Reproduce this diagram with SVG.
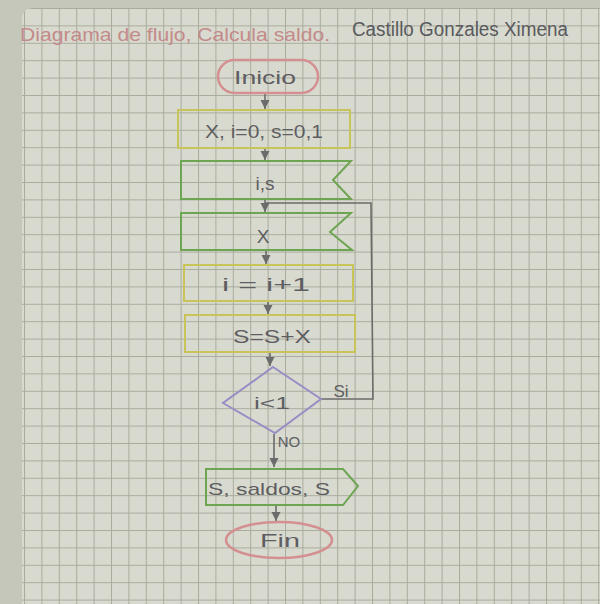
<svg xmlns="http://www.w3.org/2000/svg" width="600" height="604" viewBox="0 0 600 604">
<defs>
<pattern id="grid" x="24" y="8" width="17.4" height="17.4" patternUnits="userSpaceOnUse">
<rect width="17.4" height="17.4" fill="#d8dacf"/>
<path d="M0 0.5 H17.4 M0.5 0 V17.4" stroke="#a9ab9f" stroke-width="1" fill="none"/>
</pattern>
<marker id="ah" viewBox="0 0 10 10" refX="9" refY="5" markerWidth="7" markerHeight="7" orient="auto">
<path d="M1 1 L9 5 L1 9 Z" fill="#6b6b6b"/>
</marker>
<style>
.t{font-family:"Liberation Sans","DejaVu Sans",sans-serif;fill:#5e5e62;text-anchor:middle}
.term{fill:none;stroke:#d49090;stroke-width:2.5}
.proc{fill:none;stroke:#c8c45a;stroke-width:2}
.io{fill:none;stroke:#6ea552;stroke-width:2}
.dec{fill:none;stroke:#9a8cc4;stroke-width:2}
.ln{fill:none;stroke:#6b6b6b;stroke-width:1.6}
</style>
</defs>
<rect width="600" height="604" fill="#c6c7bb"/>
<path d="M22 604 V20 Q22 8 34 8 H600 V604 Z" fill="url(#grid)"/>
<text x="20" y="41" font-family="Liberation Sans, sans-serif" font-size="19" fill="#c48a8a" textLength="310" lengthAdjust="spacingAndGlyphs">Diagrama de flujo, Calcula saldo.</text>
<text x="352" y="36" font-family="Liberation Sans, sans-serif" font-size="20" fill="#5a5a5e" textLength="216" lengthAdjust="spacingAndGlyphs">Castillo Gonzales Ximena</text>

<g id="connectors">
<line class="ln" x1="265" y1="93" x2="265" y2="109" marker-end="url(#ah)"/>
<line class="ln" x1="265" y1="148" x2="265" y2="160" marker-end="url(#ah)"/>
<line class="ln" x1="265" y1="200" x2="265" y2="212" marker-end="url(#ah)"/>
<line class="ln" x1="266" y1="251" x2="266" y2="264" marker-end="url(#ah)"/>
<line class="ln" x1="268" y1="301" x2="268" y2="314" marker-end="url(#ah)"/>
<line class="ln" x1="270" y1="353" x2="270" y2="366" marker-end="url(#ah)"/>
<line class="ln" x1="274" y1="434" x2="274" y2="467" marker-end="url(#ah)"/>
<line class="ln" x1="276" y1="506" x2="276" y2="521" marker-end="url(#ah)"/>
<polyline class="ln" points="321,399 373,399 371,203 265,203"/>
<text class="t" x="341" y="397" font-size="17">Si</text>
<text class="t" x="289" y="447" font-size="15">NO</text>
</g>

<g id="inicio">
<rect class="term" x="218" y="60" width="100" height="33" rx="16.5"/>
<text class="t" x="265" y="84" font-size="19" textLength="62" lengthAdjust="spacingAndGlyphs">Inicio</text>
</g>
<g id="init">
<rect class="proc" x="178" y="110" width="172" height="38"/>
<text class="t" x="264" y="138" font-size="18" textLength="118" lengthAdjust="spacingAndGlyphs">X, i=0, s=0,1</text>
</g>
<g id="read1">
<polygon class="io" points="181,161 351,161 333,180 351,199 181,199"/>
<text class="t" x="265" y="190" font-size="19">i,s</text>
</g>
<g id="read2">
<polygon class="io" points="181,213 351,213 330,232 352,250 181,250"/>
<text class="t" x="263" y="243" font-size="19">X</text>
</g>
<g id="inc">
<rect class="proc" x="184" y="265" width="169" height="36"/>
<text class="t" x="266" y="291" font-size="18" textLength="88" lengthAdjust="spacingAndGlyphs">i = i+1</text>
</g>
<g id="sum">
<rect class="proc" x="185" y="315" width="170" height="37"/>
<text class="t" x="272" y="343" font-size="18" textLength="78" lengthAdjust="spacingAndGlyphs">S=S+X</text>
</g>
<g id="cond">
<polygon class="dec" points="273,367 321,399 275,433 223,403"/>
<text class="t" x="272" y="409" font-size="17" textLength="36" lengthAdjust="spacingAndGlyphs">i&lt;1</text>
</g>
<g id="out">
<polygon class="io" points="206,469 343,469 358,486 343,505 206,505"/>
<text class="t" x="269" y="495" font-size="17" textLength="122" lengthAdjust="spacingAndGlyphs">S, saldos, S</text>
</g>
<g id="fin">
<ellipse class="term" cx="279" cy="540" rx="53" ry="18"/>
<text class="t" x="280" y="547" font-size="19" textLength="40" lengthAdjust="spacingAndGlyphs">Fin</text>
</g>
</svg>
